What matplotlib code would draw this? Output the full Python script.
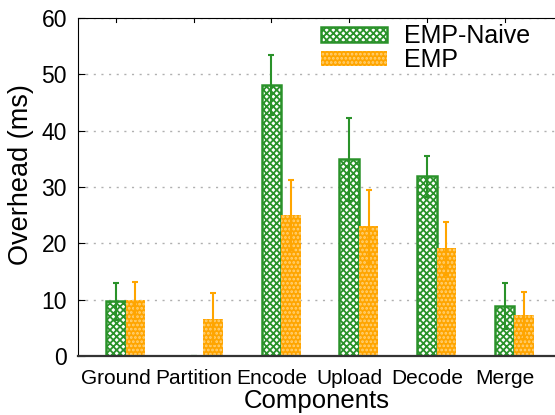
import matplotlib
matplotlib.use("Agg")
import matplotlib.pyplot as plt
import numpy as np

plt.rcParams['font.family'] = ['Liberation Sans', 'DejaVu Sans']
plt.rcParams['hatch.linewidth'] = 1.3

categories = ["Ground", "Partition", "Encode", "Upload", "Decode", "Merge"]
naive = [9.8, 0.0, 48.1, 35.0, 31.9, 8.8]
naive_lo = [6.4, 0.0, 42.7, 27.6, 28.3, 4.8]
naive_hi = [12.9, 0.0, 53.4, 42.3, 35.5, 12.9]
emp = [9.9, 6.6, 25.1, 23.0, 19.2, 7.2]
emp_lo = [6.6, 2.2, 18.8, 16.5, 14.4, 3.1]
emp_hi = [13.1, 11.1, 31.3, 29.5, 23.8, 11.3]

green = '#2a922a'
orange = '#ffa500'

fig = plt.figure(figsize=(5.55, 4.15), dpi=100)
ax = fig.add_axes([78/555, 59/415, 1 - 78/555, (356-18)/415])

x = np.arange(len(categories))
w = 0.25
naive_a = np.array(naive); emp_a = np.array(emp)
b1 = ax.bar(x, naive, w, facecolor='white', edgecolor=green, hatch='xxxxx', linewidth=1.8,
            label='EMP-Naive', zorder=3)
b2 = ax.bar(x + w, emp, w, facecolor=orange, edgecolor='#ffd27a', hatch='....', linewidth=0,
            label='EMP', zorder=3)
ax.errorbar(x, naive, yerr=[naive_a - np.array(naive_lo), np.array(naive_hi) - naive_a],
            fmt='none', ecolor=green, elinewidth=1.5, capsize=2, capthick=1.5, zorder=4)
ax.errorbar(x + w, emp, yerr=[emp_a - np.array(emp_lo), np.array(emp_hi) - emp_a],
            fmt='none', ecolor=orange, elinewidth=1.5, capsize=2, capthick=1.5, zorder=4)

ax.set_xlim(-0.49, 5.65)
ax.set_ylim(0, 60)
ax.set_yticks(range(0, 61, 10))
ax.set_xticks(x)
ax.set_xticklabels(categories, fontsize=15)
ax.tick_params(axis='y', labelsize=16.5, direction='in', length=5, width=0.8, pad=8)
ax.tick_params(axis='x', direction='in', length=0, pad=9, top=False, bottom=False)
for xi in x:
    ax.plot([xi, xi], [60, 60 - 0.7], color='black', lw=0.8, clip_on=False, zorder=5)

ax.yaxis.grid(True, linestyle=(0, (1.5, 4)), color='#b0b0b0', linewidth=1)
ax.set_axisbelow(True)
ax.spines['right'].set_visible(False)
ax.spines['bottom'].set_color('#333333')
ax.spines['bottom'].set_linewidth(1.6)
ax.spines['bottom'].set_zorder(6)
ax.spines['left'].set_linewidth(0.8)
ax.spines['top'].set_linewidth(0.8)

ax.set_ylabel('Overhead (ms)', fontsize=19.5)
ax.yaxis.set_label_coords(-0.092, 0.538)
ax.set_xlabel('Components', fontsize=18.5, labelpad=1)

leg = ax.legend(loc='upper right', bbox_to_anchor=(530/555, 1 - 24/415),
                bbox_transform=fig.transFigure, frameon=False, fontsize=18,
                handlelength=2.64, handleheight=0.56, labelspacing=0.0, handletextpad=0.68,
                borderaxespad=0, borderpad=0)

fig.savefig('out.png', dpi=100)
